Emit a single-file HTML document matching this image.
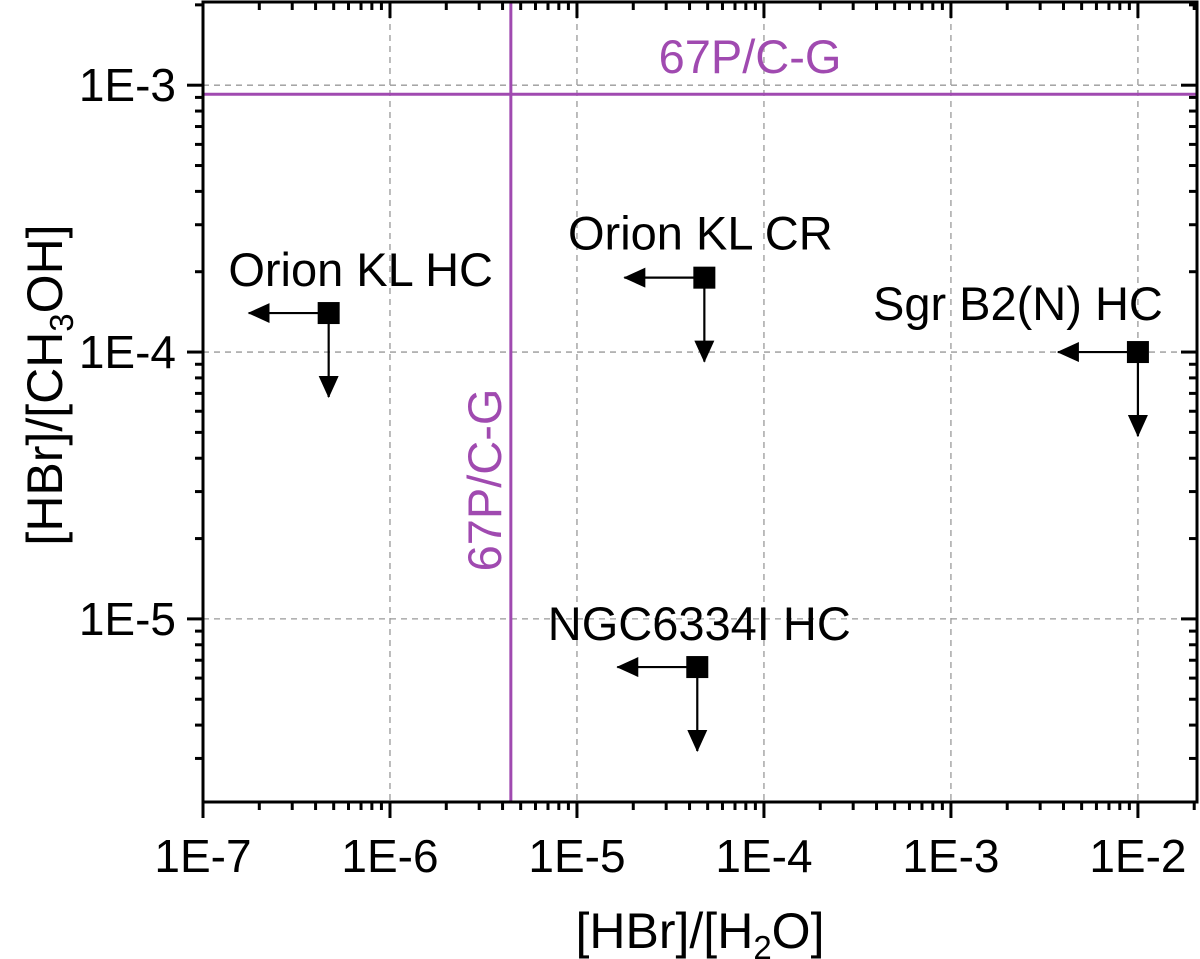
<!DOCTYPE html>
<html><head><meta charset="utf-8"><style>
html,body{margin:0;padding:0;background:#fff;}
svg{display:block;font-family:"Liberation Sans",Arial,sans-serif;}
</style></head><body>
<svg id="chart" width="1200" height="959" viewBox="0 0 1200 959"></svg>
<script>
const xTickVals=[1e-7,1e-6,1e-5,1e-4,1e-3,1e-2];
const xTickLabels=["1E-7","1E-6","1E-5","1E-4","1E-3","1E-2"];
const yTickVals=[1e-3,1e-4,1e-5];
const yTickLabels=["1E-3","1E-4","1E-5"];
const pointNames=["Orion KL HC","Orion KL CR","Sgr B2(N) HC","NGC6334I HC"];
const pointX=[4.7e-7,4.8e-5,1e-2,4.4e-5];
const pointY=[1.4e-4,1.9e-4,1e-4,6.6e-6];
const refX=4.43e-6;
const refY=9.25e-4;

const L=203,R=1197,T=2,B=802;
const xMin=Math.log10(1e-7),xMax=Math.log10(2.07e-2);
const yMin=Math.log10(2.06e-6),yMax=Math.log10(2.05e-3);
function sx(v){return L+(Math.log10(v)-xMin)/(xMax-xMin)*(R-L);}
function sy(v){return B-(Math.log10(v)-yMin)/(yMax-yMin)*(B-T);}
const NS="http://www.w3.org/2000/svg";
const svg=document.getElementById('chart');
function mk(tag,attrs,parent){const e=document.createElementNS(NS,tag);for(const k in attrs)e.setAttribute(k,attrs[k]);(parent||svg).appendChild(e);return e;}

const defs=mk('defs',{});
const mkr=mk('marker',{id:'ah',markerWidth:'22',markerHeight:'20',refX:'21',refY:'10',orient:'auto',markerUnits:'userSpaceOnUse'},defs);
mk('path',{d:'M0,0 L22,10 L0,20 z',fill:'#000'},mkr);

xTickVals.forEach(v=>{const g=mk('line',{x1:sx(v),x2:sx(v),y1:T,y2:B,stroke:'#999','stroke-width':1.3,'stroke-dasharray':'6,5'});

});
yTickVals.forEach(v=>{const g=mk('line',{x1:L,x2:R,y1:sy(v),y2:sy(v),stroke:'#999','stroke-width':1.3,'stroke-dasharray':'6,5'});

});

const rv=mk('line',{x1:sx(refX),x2:sx(refX),y1:T,y2:B,stroke:'#a04ab0','stroke-width':3});


const rh=mk('line',{x1:L,x2:R,y1:sy(refY),y2:sy(refY),stroke:'#a04ab0','stroke-width':3});


const rht=mk('text',{x:750,y:sy(refY)-21,'font-size':47,fill:'#a04ab0','text-anchor':'middle'});rht.textContent='67P/C-G';


const rvt=mk('text',{x:0,y:0,'font-size':47,fill:'#a04ab0','text-anchor':'middle',transform:`translate(${sx(refX)-10},480) rotate(-90)`});rvt.textContent='67P/C-G';



const fr=mk('rect',{x:L,y:T,width:R-L,height:B-T,fill:'none',stroke:'#000','stroke-width':3});



for(let d=-7;d<=-2;d++){for(let m=1;m<=9;m++){const v=m*Math.pow(10,d);if(Math.log10(v)>xMax+1e-9)break;
const len=m===1?16:8;
mk('line',{x1:sx(v),x2:sx(v),y1:B,y2:B+len,stroke:'#000','stroke-width':3});
mk('line',{x1:sx(v),x2:sx(v),y1:T,y2:T+len,stroke:'#000','stroke-width':3});}}
for(let d=-6;d<=-3;d++){for(let m=1;m<=9;m++){const v=m*Math.pow(10,d);const l=Math.log10(v);if(l<yMin-1e-9||l>yMax+1e-9)continue;
const len=m===1?16:8;
mk('line',{x1:L-len,x2:L,y1:sy(v),y2:sy(v),stroke:'#000','stroke-width':3});
mk('line',{x1:R-len,x2:R,y1:sy(v),y2:sy(v),stroke:'#000','stroke-width':3});}}

xTickVals.forEach((v,i)=>{const t=mk('text',{x:sx(v),y:B+70,'font-size':46,'text-anchor':'middle',fill:'#000'});t.textContent=xTickLabels[i];

});
yTickVals.forEach((v,i)=>{const t=mk('text',{x:L-27,y:sy(v)+16,'font-size':46,'text-anchor':'end',fill:'#000'});t.textContent=yTickLabels[i];

});

const xt=mk('text',{x:700,y:948,'font-size':50,'text-anchor':'middle',fill:'#000'});
xt.innerHTML='[HBr]/[H<tspan font-size="33" dy="11">2</tspan><tspan dy="-11">O]</tspan>';


const yt=mk('text',{x:0,y:0,'font-size':50,'text-anchor':'middle',fill:'#000',transform:'translate(62,385) rotate(-90)'});
yt.innerHTML='[HBr]/[CH<tspan font-size="33" dy="11">3</tspan><tspan dy="-11">OH]</tspan>';



const labelOff=[[32,-27],[-4,-28],[-120,-32],[2,-27]];
pointNames.forEach((n,i)=>{const px=sx(pointX[i]),py=sy(pointY[i]);
const ha=mk('line',{x1:px,x2:px-80,y1:py,y2:py,stroke:'#000','stroke-width':2.2,'marker-end':'url(#ah)'});


const va=mk('line',{x1:px,x2:px,y1:py,y2:py+84,stroke:'#000','stroke-width':2.2,'marker-end':'url(#ah)'});


const s=mk('rect',{x:px-11,y:py-11,width:22,height:22,fill:'#000'});


const t=mk('text',{x:px+labelOff[i][0],y:py+labelOff[i][1],'font-size':47,'text-anchor':'middle',fill:'#000'});t.textContent=n;

});
</script>
</body></html>
